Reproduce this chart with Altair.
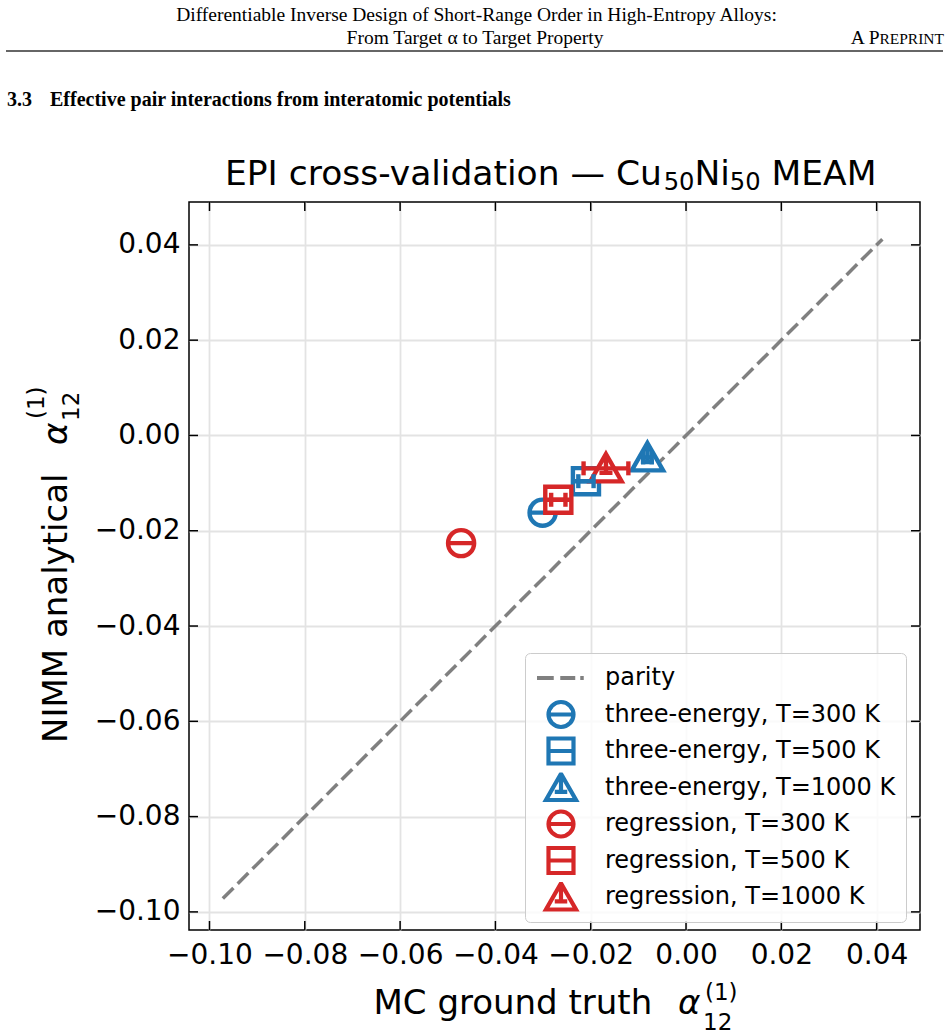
import altair as alt
import pandas as pd

# ---- data -------------------------------------------------------------
series = [
    "three-energy, T=300 K",
    "three-energy, T=500 K",
    "three-energy, T=1000 K",
    "regression, T=300 K",
    "regression, T=500 K",
    "regression, T=1000 K",
]
mc_alpha = [-0.0301, -0.0210, -0.0081, -0.0472, -0.0268, -0.0168]      # MC ground truth
nimm_alpha = [-0.0162, -0.0096, -0.0046, -0.0226, -0.0135, -0.0069]    # NIMM analytical
mc_err = [0.0, 0.0016, 0.0009, 0.0, 0.0015, 0.0047]                    # x error half-width

parity_lims = [-0.0972, 0.0412]
tick_values = [-0.10, -0.08, -0.06, -0.04, -0.02, 0.00, 0.02, 0.04]
axis_domain_x = [-0.1043, 0.0491]
axis_domain_y = [-0.1038, 0.0490]

BLUE = "#1f77b4"
RED = "#d62728"
GRAY = "#808080"

# marker glyphs (unit box paths); the inner strokes mimic the error-bar handles
CIRC = "M-1,0A1,1 0 1,1 1,0A1,1 0 1,1 -1,0Z M-1,0L1,0"
SQR = "M-1,-1L1,-1L1,1L-1,1Z M-1,0L1,0"
TRI = "M0,-1.1L1.2,1.0L-1.2,1.0Z M0,-1.1L0,0.35 M-0.5,0.35L0.5,0.35"
DASH = "M-1.92,0L-0.58,0 M-0.06,0L1.14,0 M1.54,0L1.82,0"

legend_domain = ["parity"] + series
color_scale = alt.Scale(domain=legend_domain,
                        range=[GRAY, BLUE, BLUE, BLUE, RED, RED, RED])
shape_scale = alt.Scale(domain=legend_domain,
                        range=[DASH, CIRC, SQR, TRI, CIRC, SQR, TRI])

xscale = alt.Scale(domain=axis_domain_x, nice=False, zero=False)
yscale = alt.Scale(domain=axis_domain_y, nice=False, zero=False)

pts = pd.DataFrame({"series": series, "mc": mc_alpha, "nimm": nimm_alpha, "err": mc_err})
pts["lo"] = pts["mc"] - pts["err"]
pts["hi"] = pts["mc"] + pts["err"]
bars = pts[pts["err"] > 0]

parity = pd.DataFrame({"x": parity_lims, "y": parity_lims})
ticks = pd.DataFrame({"v": tick_values})

SW = 4.4  # marker / error-bar line width

legend = alt.Legend(
    title=None, orient="none", legendX=336, legendY=451,
    symbolSize=625, symbolStrokeWidth=4.2, symbolFillColor="white",
    labelFontSize=24, labelFont="DejaVu Sans", labelColor="black", labelLimit=500,
    padding=10, symbolOffset=11, labelOffset=29, rowPadding=6.5, clipHeight=30,
    strokeColor="#cccccc", fillColor="rgba(255,255,255,0.8)", cornerRadius=5,
)

axis_common = dict(values=tick_values, format=".2f", grid=True, ticks=False, domain=False,
                   labelFontSize=28, labelFont="DejaVu Sans", labelColor="black",
                   labelOverlap=False, labelFlush=False, title=None,
                   gridColor="#e3e3e3", gridWidth=1.8)
xaxis = alt.Axis(labelPadding=11, **axis_common)
yaxis = alt.Axis(labelPadding=9, **axis_common)

# ---- layers -----------------------------------------------------------
parity_line = alt.Chart(parity).mark_line(
    color=GRAY, strokeWidth=3.5, strokeDash=[15, 6]
).encode(
    x=alt.X("x:Q", scale=xscale, axis=xaxis),
    y=alt.Y("y:Q", scale=yscale, axis=yaxis),
)

points = alt.Chart(pts).mark_point(
    filled=False, fill="white", fillOpacity=1, opacity=1, strokeWidth=SW, size=680
).encode(
    x=alt.X("mc:Q", scale=xscale, axis=xaxis),
    y=alt.Y("nimm:Q", scale=yscale, axis=yaxis),
    color=alt.Color("series:N", scale=color_scale, legend=legend),
    shape=alt.Shape("series:N", scale=shape_scale, legend=legend),
)

err_line = alt.Chart(bars).mark_rule(strokeWidth=SW).encode(
    x=alt.X("lo:Q", scale=xscale, axis=xaxis),
    x2="hi:Q",
    y=alt.Y("nimm:Q", scale=yscale, axis=yaxis),
    color=alt.Color("series:N", scale=color_scale, legend=legend),
)

err_caps = alt.Chart(bars).transform_fold(["lo", "hi"], as_=["end", "xe"]).mark_rule(
    strokeWidth=SW, yOffset=-7, y2Offset=7
).encode(
    x=alt.X("xe:Q", scale=xscale, axis=xaxis),
    y=alt.Y("nimm:Q", scale=yscale, axis=yaxis),
    y2="nimm:Q",
    color=alt.Color("series:N", scale=color_scale, legend=legend),
)

# inward tick marks on all four sides of the frame
W, H, TL = 731, 728, 9
tick_top = alt.Chart(ticks).mark_rule(color="black", strokeWidth=1.5).encode(
    x=alt.X("v:Q", scale=xscale, axis=xaxis), y=alt.value(0), y2=alt.value(TL))
tick_bottom = alt.Chart(ticks).mark_rule(color="black", strokeWidth=1.5).encode(
    x=alt.X("v:Q", scale=xscale, axis=xaxis), y=alt.value(H), y2=alt.value(H - TL))
tick_left = alt.Chart(ticks).mark_rule(color="black", strokeWidth=1.5).encode(
    y=alt.Y("v:Q", scale=yscale, axis=yaxis), x=alt.value(0), x2=alt.value(TL))
tick_right = alt.Chart(ticks).mark_rule(color="black", strokeWidth=1.5).encode(
    y=alt.Y("v:Q", scale=yscale, axis=yaxis), x=alt.value(W), x2=alt.value(W - TL))


def text_at(txt, x, y, size, font="DejaVu Sans", weight="normal", style="normal",
            align="left", angle=0):
    return alt.Chart(alt.Data(values=[{}])).mark_text(
        text=txt, fontSize=size, font=font, fontWeight=weight, fontStyle=style,
        align=align, baseline="alphabetic", angle=angle, color="black"
    ).encode(x=alt.value(x), y=alt.value(y))


SERIF = "Liberation Serif"
page_header = [
    text_at("Differentiable Inverse Design of Short-Range Order in High-Entropy Alloys:",
            287.5, -181.5, 19.5, font=SERIF, align="center"),
    text_at("From Target α to Target Property", 286, -158, 19.5, font=SERIF, align="center"),
    text_at("A P", 690.5, -158, 19.5, font=SERIF, align="right"),
    text_at("REPRINT", 755, -158, 15.5, font=SERIF, align="right"),
    alt.Chart(alt.Data(values=[{}])).mark_rule(color="#333333", strokeWidth=1.3).encode(
        x=alt.value(-183), x2=alt.value(754), y=alt.value(-151)),
    text_at("3.3", -182, -96.5, 20, font=SERIF, weight="bold"),
    text_at("Effective pair interactions from interatomic potentials", -139, -96.5, 20,
            font=SERIF, weight="bold"),
]

# chart title, written piecewise so the "50" subscripts sit lowered and smaller
TS, SS = 34.5, 24.2
title_pieces = [
    text_at("EPI cross-validation — Cu", 36, -17, TS),
    text_at("50", 474.7, -12, SS),
    text_at("Ni", 505.4, -17, TS),
    text_at("50", 540.8, -12, SS),
    text_at("MEAM", 582.5, -17, TS),
]

axis_titles = [
    # x-axis title
    text_at("MC ground truth", 184.5, 812, 34),
    text_at("α", 489, 812, 34, style="italic"),
    text_at("(1)", 516, 798, 23),
    text_at("12", 514, 828, 23),
    # y-axis title
    text_at("NIMM analytical", -122, 541, 34, angle=270),
    text_at("α", -122, 243, 34, style="italic", angle=270),
    text_at("(1)", -145, 217, 23, angle=270),
    text_at("12", -110, 219, 23, angle=270),
]

chart = alt.layer(
    parity_line, points, err_line, err_caps,
    tick_top, tick_bottom, tick_left, tick_right,
    *page_header, *title_pieces, *axis_titles,
).properties(
    width=W, height=H,
    padding={"left": 189, "top": 202, "right": 28, "bottom": 106},
    autosize=alt.AutoSizeParams(type="none"),
).configure(
    font="DejaVu Sans", background="white"
).configure_view(
    stroke="black", strokeWidth=1.5
)

chart.save("out.html", embed_options={"renderer": "svg", "actions": False})
